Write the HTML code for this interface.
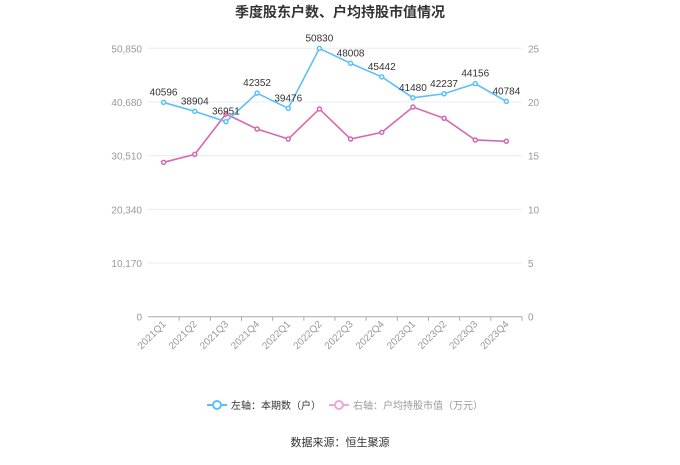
<!DOCTYPE html>
<html><head><meta charset="utf-8"><style>
body{margin:0;background:#fff;font-family:"Liberation Sans","Noto Sans CJK SC",sans-serif}
svg text{font-family:"Liberation Sans","Noto Sans CJK SC",sans-serif}
</style></head><body>
<svg id="c" width="680" height="460">
<text x="340" y="17" text-anchor="middle" font-size="14" font-weight="bold" fill="#333">季度股东户数、户均持股市值情况</text>
<g id="grid"></g><g id="axes"></g><g id="series"></g>
<g>
<g><line x1="207" y1="405" x2="227" y2="405" stroke="#5bc0f8" stroke-width="2"/><circle cx="217" cy="405" r="4" fill="#fff" stroke="#5bc0f8" stroke-width="2"/><text x="231" y="409" font-size="10" fill="#333">左轴：本期数（户）</text></g>
<g><line x1="329" y1="405" x2="349" y2="405" stroke="#e8a8d8" stroke-width="2"/><circle cx="339" cy="405" r="4" fill="#fff" stroke="#e8a8d8" stroke-width="2"/><text x="353" y="409" font-size="10" fill="#999">右轴：户均持股市值（万元）</text></g>
</g>
<text x="340" y="446" text-anchor="middle" font-size="11" fill="#333">数据来源：恒生聚源</text>
</svg>
<script>
const categories=["2021Q1","2021Q2","2021Q3","2021Q4","2022Q1","2022Q2","2022Q3","2022Q4","2023Q1","2023Q2","2023Q3","2023Q4"];
const holders=[40596,38904,36951,42352,39476,50830,48008,45442,41480,42237,44156,40784];
const avgValue=[14.38,15.12,18.88,17.48,16.55,19.35,16.55,17.17,19.53,18.48,16.46,16.34];
const leftTicks=[0,10170,20340,30510,40680,50850];
const rightTicks=[0,5,10,15,20,25];
const NS="http://www.w3.org/2000/svg";
const X0=148,X1=522,Y0=316.7,Y1=48.3;
const band=(X1-X0)/categories.length;
const x=i=>X0+band*(i+0.5);
const yL=v=>Y0-(v/50850)*(Y0-Y1);
const yR=v=>Y0-(v/25)*(Y0-Y1);
function mk(t,a,p){const e=document.createElementNS(NS,t);for(const k in a)e.setAttribute(k,a[k]);p.appendChild(e);return e;}
const grid=document.getElementById('grid'),axes=document.getElementById('axes'),ser=document.getElementById('series');
leftTicks.forEach((v,i)=>{
 const gl=mk('line',{x1:X0,x2:X1,y1:yL(v),y2:yL(v),stroke:i?'#e8ecf4':'#aaa','stroke-width':1},grid);
 
 
 const t=mk('text',{x:X0-6,y:yL(v)+4,'text-anchor':'end','font-size':10,fill:'#999'},axes);
 t.textContent=v.toLocaleString('en-US');
 
 
});
rightTicks.forEach(v=>{
 const t=mk('text',{x:X1+6,y:yR(v)+4,'font-size':10,fill:'#999'},axes);
 t.textContent=v;
 
 
});
categories.forEach((c,i)=>{
 mk('line',{x1:X0+band*(i+1),x2:X0+band*(i+1),y1:Y0,y2:Y0+4,stroke:'#aaa'},axes);
 const t=mk('text',{x:x(i)+3,y:Y0+8,'text-anchor':'end','font-size':10,fill:'#999',transform:`rotate(-45 ${x(i)+3} ${Y0+8})`},axes);
 t.textContent=c;
 
 
});
function line(vals,f,col,name,labels){
 const p=mk('polyline',{points:vals.map((v,i)=>x(i)+','+f(v)).join(' '),fill:'none',stroke:col,'stroke-width':1.6},ser);
 
 
 vals.forEach((v,i)=>{
  const c=mk('circle',{cx:x(i),cy:f(v),r:2,fill:'#fff',stroke:col,'stroke-width':1.5},ser);
  
  
  if(labels){const t=mk('text',{x:x(i),y:f(v)-7,'text-anchor':'middle','font-size':10,fill:'#333'},ser);
   t.textContent=v;
   
   }
 });
}
line(avgValue,yR,'#d966b0','avg-value',false);
line(holders,yL,'#5bc0f8','holders',true);
</script>
</body></html>
